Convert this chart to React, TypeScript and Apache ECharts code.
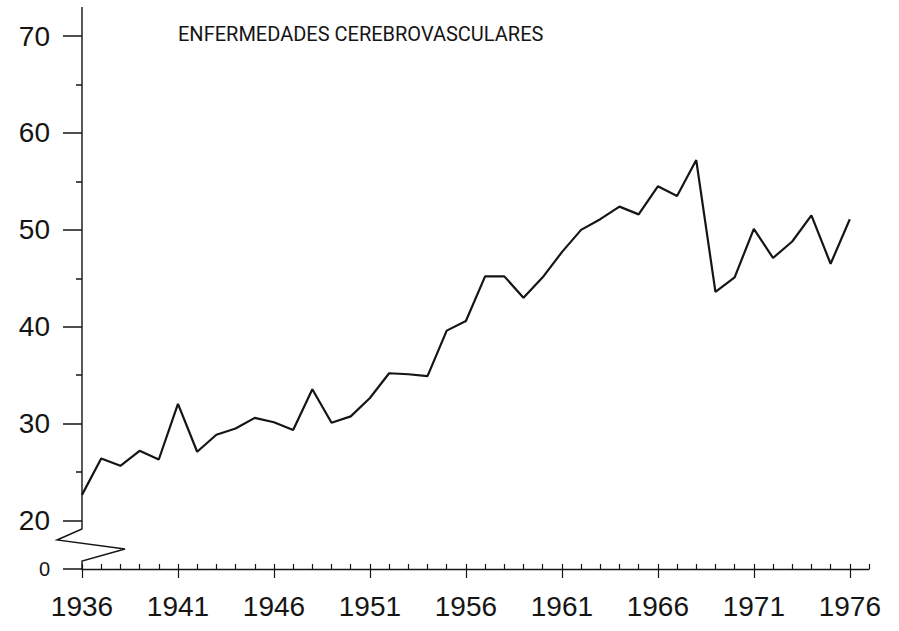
import React, { useEffect, useRef } from "react";
import * as echarts from "echarts";

const TITLE = "ENFERMEDADES CEREBROVASCULARES";
const years = [
  1936, 1937, 1938, 1939, 1940, 1941, 1942, 1943, 1944, 1945,
  1946, 1947, 1948, 1949, 1950, 1951, 1952, 1953, 1954, 1955,
  1956, 1957, 1958, 1959, 1960, 1961, 1962, 1963, 1964, 1965,
  1966, 1967, 1968, 1969, 1970, 1971, 1972, 1973, 1974, 1975, 1976,
];
const rates = [
  22.65, 26.4, 25.65, 27.2, 26.3, 32.05, 27.1, 28.85, 29.5, 30.6,
  30.15, 29.35, 33.55, 30.1, 30.75, 32.65, 35.2, 35.1, 34.9, 39.6,
  40.6, 45.2, 45.2, 43.0, 45.1, 47.7, 50.0, 51.1, 52.4, 51.6,
  54.5, 53.5, 57.2, 43.6, 45.1, 50.1, 47.1, 48.8, 51.5, 46.5, 51.1,
];
const xLabelYears = [1936, 1941, 1946, 1951, 1956, 1961, 1966, 1971, 1976];
// 15 stands for the broken-axis origin, labelled "0"
const yLabelValues = [15, 20, 30, 40, 50, 60, 70];
const yMinorValues = [25, 35, 45, 55, 65];

const INK = "#151515";
const LABEL_FONT = "'Liberation Sans', Arial, sans-serif";

export default function App() {
  const ref = useRef<HTMLDivElement>(null);
  useEffect(() => {
    document.body.style.margin = "0";
    if (!ref.current) return;
    const chart = echarts.init(ref.current, null, { renderer: "svg" });
    const gridPos = { left: 82, right: 30, top: 7, bottom: 62 };
    chart.setOption({
      animation: false,
      backgroundColor: "#ffffff",
      title: {
        text: TITLE,
        left: 178,
        top: 24,
        padding: 0,
        textStyle: {
          fontFamily: "Roboto, 'Noto Sans', sans-serif",
          fontSize: 20,
          fontWeight: "normal",
          color: INK,
        },
      },
      grid: [
        { ...gridPos },
        { ...gridPos },
      ],
      xAxis: [
        {
          type: "value",
          gridIndex: 0,
          min: 1936,
          max: 1977,
          interval: 1,
          axisLine: { show: true, lineStyle: { color: INK, width: 1.3 } },
          axisTick: { show: true, inside: true, length: 5, lineStyle: { color: INK, width: 1.2 } },
          axisLabel: { show: false },
          splitLine: { show: false },
        },
        {
          type: "value",
          gridIndex: 1,
          min: 1936,
          max: 1977,
          interval: 1,
          axisLine: { show: false },
          axisTick: {
            show: true,
            length: 9,
            customValues: xLabelYears,
            lineStyle: { color: INK, width: 1.2 },
          },
          axisLabel: {
            show: true,
            customValues: xLabelYears,
            margin: 23,
            fontFamily: LABEL_FONT,
            fontSize: 28,
            color: INK,
            formatter: (v: number) => String(v),
          },
          splitLine: { show: false },
        },
      ],
      yAxis: [
        {
          type: "value",
          gridIndex: 0,
          min: 15,
          max: 73,
          axisLine: { show: false },
          axisTick: {
            show: true,
            length: 19,
            customValues: yLabelValues,
            lineStyle: { color: INK, width: 1.5 },
          },
          axisLabel: {
            show: true,
            customValues: yLabelValues,
            margin: 32,
            fontFamily: LABEL_FONT,
            fontSize: 28,
            color: INK,
            formatter: (v: number) => (v === 15 ? "{s|0}" : String(v)),
            rich: { s: { fontFamily: LABEL_FONT, fontSize: 20, color: INK } },
          },
          splitLine: { show: false },
        },
        {
          type: "value",
          gridIndex: 1,
          min: 15,
          max: 73,
          axisLine: { show: false },
          axisTick: {
            show: true,
            length: 6,
            customValues: yMinorValues,
            lineStyle: { color: INK, width: 1.5 },
          },
          axisLabel: { show: false },
          splitLine: { show: false },
        },
      ],
      series: [
        {
          type: "line",
          xAxisIndex: 0,
          yAxisIndex: 0,
          data: years.map((y, i) => [y, rates[i]]),
          showSymbol: false,
          symbol: "none",
          lineStyle: { color: INK, width: 2.2 },
        },
      ],
    });

    // broken vertical axis with its zigzag, placed from the axis scale
    const [x0, yTop] = chart.convertToPixel({ gridIndex: 0 }, [1936, 73]) as number[];
    const [, y0] = chart.convertToPixel({ gridIndex: 0 }, [1936, 15]) as number[];
    chart.setOption({
      graphic: [
        {
          type: "polyline",
          silent: true,
          shape: {
            points: [
              [x0, yTop],
              [x0, y0 - 40],
              [x0 - 25, y0 - 29],
              [x0 + 43, y0 - 20],
              [x0, y0 - 8],
              [x0, y0],
            ],
          },
          style: { stroke: INK, lineWidth: 1.4, fill: "none" },
        },
      ],
    });

    return () => chart.dispose();
  }, []);
  return (
    <div
      ref={ref}
      style={{ position: "absolute", left: 0, top: 0, width: 899, height: 631 }}
    />
  );
}
